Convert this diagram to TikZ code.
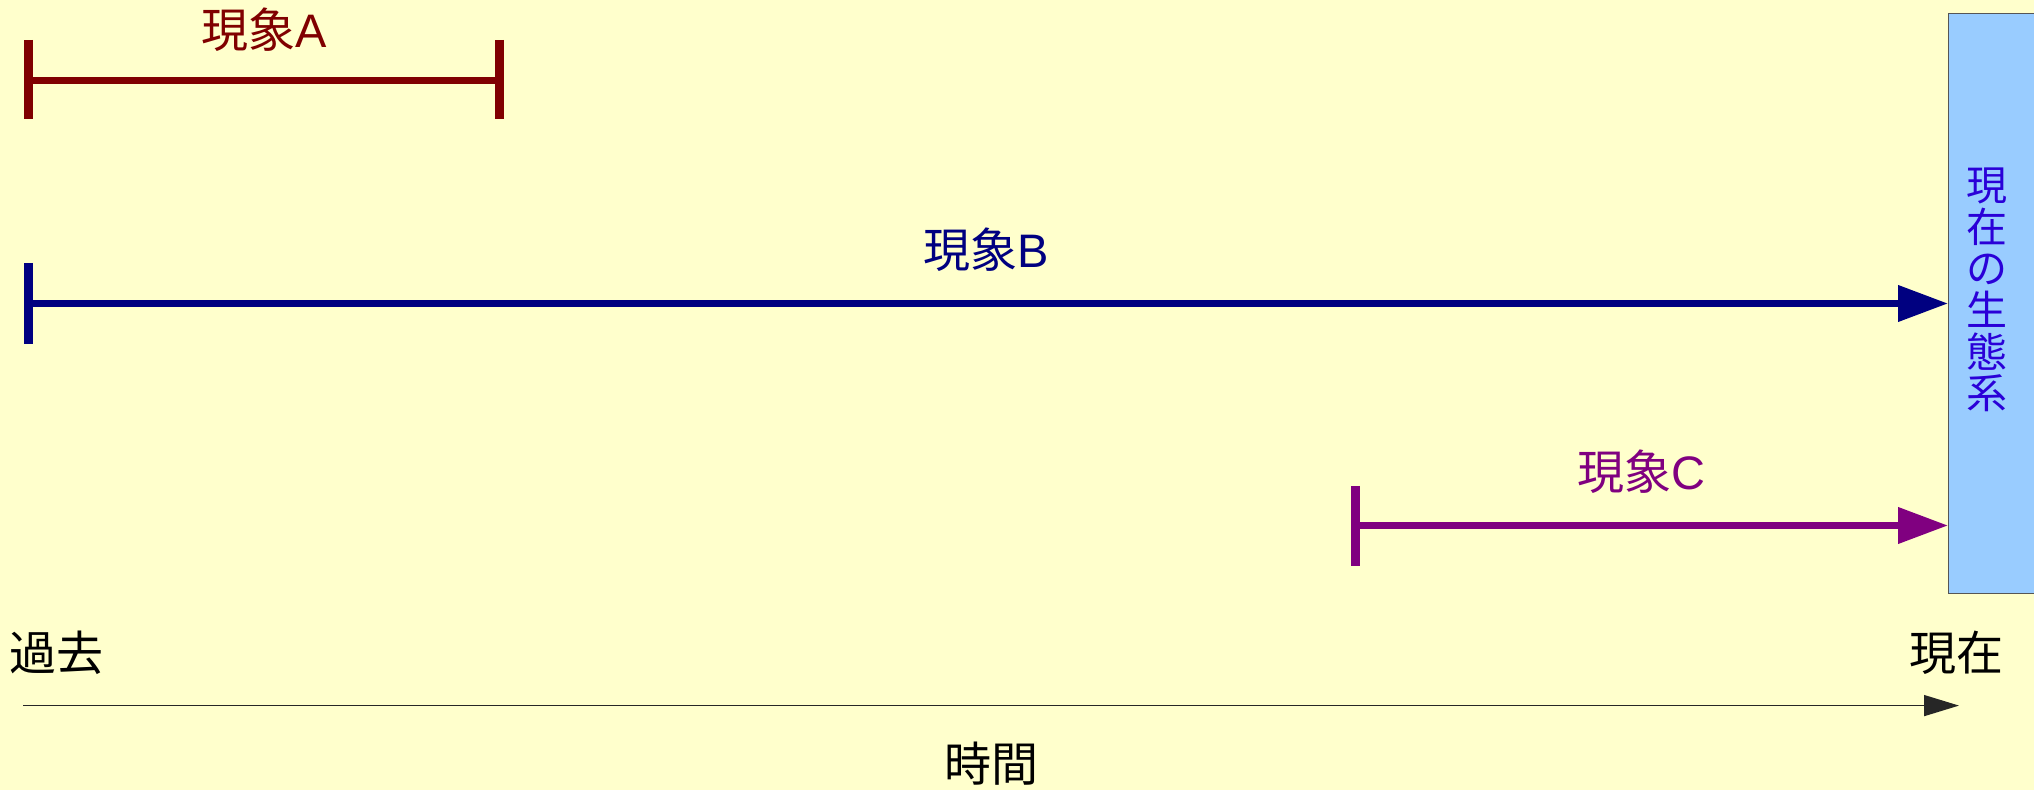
\documentclass[tikz,border=0pt]{standalone}
\usepackage{fontspec}
\setmainfont{Noto Sans CJK JP}
\newfontfamily\lat{Liberation Sans}
\usetikzlibrary{arrows.meta}
\definecolor{bg}{HTML}{FFFFCC}
\definecolor{cA}{HTML}{800000}
\definecolor{cB}{HTML}{000080}
\definecolor{cC}{HTML}{800080}
\definecolor{boxfill}{HTML}{99CCFF}
\definecolor{boxtext}{HTML}{2A00D8}
\definecolor{boxline}{HTML}{555555}
\tikzset{
  lbl/.style={inner sep=0pt, font=\fontsize{23.5}{28}\selectfont},
  span/.style={line width=3.6pt, line cap=butt},
  endbar/.style={line width=4.5pt, line cap=butt},
  tipped/.style={span, -{Triangle[length=25pt,width=17.5pt]}},
  axis/.style={line width=0.75pt, draw=black!85, -{Triangle[length=17.5pt,width=10.5pt]}},
}
\begin{document}
\begin{tikzpicture}[x=0.5pt,y=-0.5pt]
\useasboundingbox[fill=bg] (0,0) rectangle (2034,790);

% ecosystem box
\node[draw=boxline, fill=boxfill, line width=0.6pt, minimum width=88pt, minimum height=290pt, inner sep=0pt, anchor=north west] (eco) at (1948,13) {};
\node[inner sep=0pt, text=boxtext, align=center, font=\fontsize{20.5}{20.8}\selectfont] (ecotxt) at (1987,290) {現\\在\\の\\生\\態\\系};

% phenomenon A
\coordinate (a0) at (28.5,80.4);
\coordinate (a1) at (499,80.4);
\coordinate (a0t) at (28.5,40); \coordinate (a0b) at (28.5,119);
\coordinate (a1t) at (499,40); \coordinate (a1b) at (499,119);
\draw[span, cA] (a0) -- (a1);
\draw[endbar, cA] (a0t) -- (a0b);
\draw[endbar, cA] (a1t) -- (a1b);
\node[lbl, text=cA] (la) at (264.6,30) {現象{\lat A}};

% phenomenon B
\coordinate (b0) at (28.5,303.5);
\coordinate (b0t) at (28.5,263); \coordinate (b0b) at (28.5,344);
\draw[tipped, cB] (b0) -- (eco.west |- b0);
\draw[endbar, cB] (b0t) -- (b0b);
\node[lbl, text=cB] (lb) at (986,250) {現象{\lat B}};

% phenomenon C
\coordinate (c0) at (1355.6,525.5);
\coordinate (c0t) at (1355.6,486); \coordinate (c0b) at (1355.6,566);
\draw[tipped, cC] (c0) -- (eco.west |- c0);
\draw[endbar, cC] (c0t) -- (c0b);
\node[lbl, text=cC] (lc) at (1641,472) {現象{\lat C}};

% time axis
\coordinate (t0) at (23,705.6);
\coordinate (t1) at (1959,705.6);
\draw[axis] (t0) -- (t1);
\node[lbl] (past) at (57,653) {過去};
\node[lbl] (now) at (1956,653) {現在};
\node[lbl] (time) at (991,764) {時間};
\end{tikzpicture}
\end{document}
